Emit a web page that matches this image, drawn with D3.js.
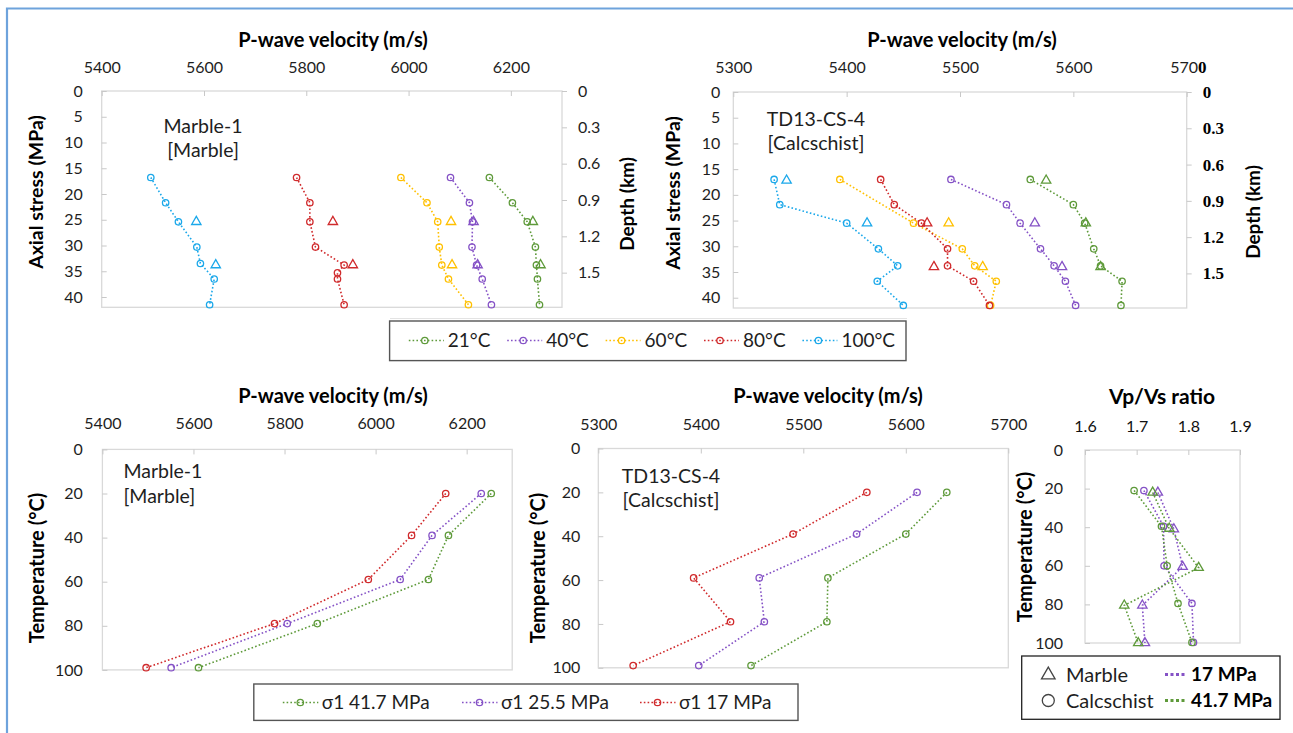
<!DOCTYPE html>
<html>
<head>
<meta charset="utf-8">
<script src="https://cdn.jsdelivr.net/npm/d3@7"></script>
<style>
  body { margin: 0; background: #fff; }
  svg { display: block; font-family: Lato, "Open Sans", sans-serif; }
</style>
</head>
<body>
<svg id="fig" width="1293" height="733"></svg>
<script>
// ---------- Data: Vp vs axial stress, Marble-1 ----------
const tempLabels = ["21°C", "40°C", "60°C", "80°C", "100°C"];
const marbleStress    = [16.8, 21.7, 25.4, 30.3, 33.8, 36.5, 41.5];
const marbleStress80  = [16.8, 21.7, 25.4, 30.3, 33.8, 35.3, 36.5, 41.5];
const marbleStress100 = [16.8, 21.7, 25.4, 30.3, 33.5, 36.5, 41.5];
const marbleVp21  = [6158, 6203, 6232, 6248, 6250, 6252, 6256];
const marbleVp40  = [6082, 6119, 6125, 6124, 6133, 6144, 6162];
const marbleVp60  = [5985, 6036, 6057, 6060, 6065, 6078, 6117];
const marbleVp80  = [5781, 5807, 5807, 5818, 5874, 5861, 5861, 5874];
const marbleVp100 = [5496, 5525, 5550, 5586, 5593, 5620, 5611];
const marbleTriStress = [25.4, 33.8];
const marbleTriVp21  = [6243, 6258];
const marbleTriVp40  = [6127, 6135];
const marbleTriVp60  = [6083, 6085];
const marbleTriVp80  = [5852, 5891];
const marbleTriVp100 = [5585, 5623];

// ---------- Data: Vp vs axial stress, TD13-CS-4 ----------
const calcStress   = [17, 21.9, 25.5, 30.5, 33.8, 36.8, 41.5];
const calcStress60 = [17, 25.5, 30.5, 33.8, 36.8, 41.5];
const calcVp21  = [5562, 5600, 5610, 5618, 5624, 5643, 5642];
const calcVp40  = [5492, 5541, 5553, 5571, 5583, 5593, 5602];
const calcVp60  = [5394, 5459, 5502, 5513, 5532, 5527];
const calcVp80  = [5430, 5442, 5466, 5489, 5489, 5512, 5526];
const calcVp100 = [5336, 5341, 5400, 5428, 5445, 5427, 5450];
const calcTriStress21  = [17.2, 25.5, 34];
const calcTriStress    = [25.5, 34];
const calcTriStress100 = [17.2, 25.5];
const calcTriVp21  = [5576, 5611, 5624];
const calcTriVp40  = [5566, 5590];
const calcTriVp60  = [5490, 5520];
const calcTriVp80  = [5471, 5477];
const calcTriVp100 = [5347, 5418];

// ---------- Data: Vp vs temperature ----------
const stressLabels = ["σ1 41.7 MPa", "σ1 25.5 MPa", "σ1 17 MPa"];
const heatTemp = [20, 39, 59, 79, 99];
const marbleHeat417 = [6254, 6160, 6116, 5872, 5611];
const marbleHeat255 = [6232, 6124, 6054, 5806, 5551];
const marbleHeat17  = [6154, 6079, 5984, 5778, 5496];
const calcHeat417 = [5640, 5600, 5524, 5523, 5449];
const calcHeat255 = [5611, 5552, 5457, 5462, 5398];
const calcHeat17  = [5562, 5490, 5393, 5429, 5334];

// ---------- Data: Vp/Vs ratio vs temperature ----------
const ratioTempMarble17  = [22, 41, 60.5, 80.5, 100];
const ratioTempMarble417 = [22, 40.7, 61, 80.5, 100];
const ratioTempCalc      = [21, 39.5, 60, 79.5, 99.7];
const ratioMarble17  = [1.741, 1.772, 1.789, 1.711, 1.716];
const ratioMarble417 = [1.731, 1.763, 1.820, 1.676, 1.703];
const ratioCalc17    = [1.714, 1.752, 1.753, 1.807, 1.810];
const ratioCalc417   = [1.695, 1.748, 1.759, 1.780, 1.807];

// ---------- Tick values ----------
const vpTicksMarble = [5400, 5600, 5800, 6000, 6200];
const vpTicksCalc   = [5300, 5400, 5500, 5600, 5700];
const stressTicks   = [0, 5, 10, 15, 20, 25, 30, 35, 40];
const depthTicks    = [0, 0.3, 0.6, 0.9, 1.2, 1.5];
const tempTicks     = [0, 20, 40, 60, 80, 100];
const ratioTicks    = [1.6, 1.7, 1.8, 1.9];

// ---------- Styles ----------
const C = { green: "#5e9a3a", purple: "#8552c6", yellow: "#ffc000", red: "#d02a2c", blue: "#1ba8ea" };
const tempColors = [C.green, C.purple, C.yellow, C.red, C.blue];
const stressColors = [C.green, C.purple, C.red];
const TXT = "#1e1e1e";
const SERIF = "'Liberation Serif', serif";

const svg = d3.select("#fig");

// outer frame
svg.append("path").attr("d", "M7,733V8.5H1293").attr("fill", "none")
  .attr("stroke", "#6ea3dc").attr("stroke-width", 2.2);

const zip = (xs, ys) => xs.map((v, i) => ({ x: v, y: ys[i] }));

function panel(o) {
  const x = d3.scaleLinear().domain(o.xDomain).range([o.left, o.right]);
  const y = d3.scaleLinear().domain(o.yDomain).range([o.top, o.bottom]);
  const g = svg.append("g");
  g.append("rect").attr("x", o.left).attr("y", o.top)
    .attr("width", o.right - o.left).attr("height", o.bottom - o.top)
    .attr("fill", "none").attr("stroke", "#d9d9d9").attr("stroke-width", 1.3);

  const ax = g.append("g").attr("transform", `translate(0,${o.top})`)
    .call(d3.axisTop(x).tickValues(o.xTicks).tickSize(-5).tickPadding(o.xPad).tickFormat(o.xFmt));
  const ay = g.append("g").attr("transform", `translate(${o.left},0)`)
    .call(d3.axisLeft(y).tickValues(o.yTicks).tickSize(-5).tickPadding(o.yPad).tickFormat(d3.format("d")));
  [ax, ay].forEach(a => {
    a.select(".domain").remove();
    a.selectAll(".tick line").attr("stroke", "#c8c8c8");
    a.selectAll("text").attr("fill", TXT).style("font-size", "16px").style("font-family", "Lato");
  });
  return { g, x, y, ax };
}

function depthAxis(p, o) {
  const yd = d3.scaleLinear().domain([0, o.depthMax]).range([o.top, o.bottom]);
  const a = p.g.append("g").attr("transform", `translate(${o.right},0)`)
    .call(d3.axisRight(yd).tickValues(depthTicks).tickSize(5).tickPadding(11).tickFormat(d => d === 0 ? "0" : d.toFixed(1)));
  a.select(".domain").remove();
  a.selectAll(".tick line").attr("stroke", "#c8c8c8");
  a.selectAll("text").attr("fill", o.depthBold ? "#000" : TXT)
    .style("font-size", o.depthBold ? "17px" : "16px")
    .style("font-family", o.depthBold ? SERIF : "Lato")
    .style("font-weight", o.depthBold ? "bold" : "normal");
}

function text(str, x, y, opts = {}) {
  const t = svg.append("text").attr("x", x).attr("y", y).text(str)
    .attr("fill", opts.fill || TXT)
    .style("font-size", (opts.size || 18) + "px")
    .style("font-weight", opts.bold ? "bold" : "normal")
    .attr("text-anchor", opts.anchor || "start");
  if (opts.family) t.style("font-family", opts.family);
  if (opts.rotate) {
    t.attr("x", 0).attr("y", 0).attr("dy", "0.35em")
      .attr("transform", `translate(${x},${y}) rotate(-90)`);
  }
  return t;
}
const title = (str, x, y, size, rotate) =>
  text(str, x, y, { bold: true, anchor: "middle", size, fill: "#000", rotate });

function drawLine(p, pts, color) {
  p.g.append("path").datum(pts)
    .attr("d", d3.line().x(d => p.x(d.x)).y(d => p.y(d.y)))
    .attr("fill", "none").attr("stroke", color)
    .attr("stroke-dasharray", "1.6,2.2").attr("stroke-width", 1.6);
}
function drawCircles(p, pts, color) {
  p.g.selectAll(null).data(pts).join("circle")
    .attr("cx", d => p.x(d.x)).attr("cy", d => p.y(d.y)).attr("r", 3.2)
    .attr("fill", "none").attr("stroke", color).attr("stroke-width", 1.3);
}
const tri = d3.symbol(d3.symbolTriangle, 38);
function drawTriangles(p, pts, color) {
  p.g.selectAll(null).data(pts).join("path")
    .attr("d", tri).attr("transform", d => `translate(${p.x(d.x)},${p.y(d.y)})`)
    .attr("fill", "none").attr("stroke", color).attr("stroke-width", 1.3);
}
function series(p, xs, ys, color) {
  const pts = zip(xs, ys);
  drawLine(p, pts, color);
  drawCircles(p, pts, color);
}

// ---------- Panel A: Marble-1 vs stress ----------
const oA = { left: 101.7, right: 562, top: 91, bottom: 307.3, xDomain: [5400, 6300], yDomain: [0, 42],
  xTicks: vpTicksMarble, yTicks: stressTicks, xPad: 18.5, yPad: 19, xFmt: d3.format("d"), depthMax: 1.786 };
const pA = panel(oA);
depthAxis(pA, oA);
const mStress = [marbleStress, marbleStress, marbleStress, marbleStress80, marbleStress100];
[marbleVp21, marbleVp40, marbleVp60, marbleVp80, marbleVp100].forEach((vp, i) => {
  series(pA, vp, mStress[i], tempColors[i]);
});
[marbleTriVp21, marbleTriVp40, marbleTriVp60, marbleTriVp80, marbleTriVp100].forEach((vp, i) => {
  drawTriangles(pA, zip(vp, marbleTriStress), tempColors[i]);
});
title("P-wave velocity (m/s)", 333, 47, 20);
title("Axial stress (MPa)", 36, 192, 19.5, true);
title("Depth (km)", 627, 204, 19, true);
text("Marble-1", 203, 132.5, { anchor: "middle", size: 19.5 });
text("[Marble]", 203, 157, { anchor: "middle", size: 19.5 });

// ---------- Panel B: TD13-CS-4 vs stress ----------
const oB = { left: 733.3, right: 1186.7, top: 92, bottom: 308, xDomain: [5300, 5700], yDomain: [0, 42],
  xTicks: vpTicksCalc, yTicks: stressTicks, xPad: 19.5, yPad: 13, xFmt: d3.format("d"), depthMax: 1.786, depthBold: true };
const pB = panel(oB);
depthAxis(pB, oB);
// the last top label ends in a heavy serif zero
pB.ax.selectAll(".tick text").filter(d => d === 5700)
  .attr("text-anchor", "start").attr("x", -17)
  .text("570")
  .append("tspan").text("0")
  .style("font-family", SERIF).style("font-weight", "bold").style("font-size", "17px").attr("fill", "#000");
const cStress = [calcStress, calcStress, calcStress60, calcStress, calcStress];
[calcVp21, calcVp40, calcVp60, calcVp80, calcVp100].forEach((vp, i) => {
  series(pB, vp, cStress[i], tempColors[i]);
});
const cTriStress = [calcTriStress21, calcTriStress, calcTriStress, calcTriStress, calcTriStress100];
[calcTriVp21, calcTriVp40, calcTriVp60, calcTriVp80, calcTriVp100].forEach((vp, i) => {
  drawTriangles(pB, zip(vp, cTriStress[i]), tempColors[i]);
});
title("P-wave velocity (m/s)", 962, 47, 20);
title("Axial stress (MPa)", 673, 193, 19.5, true);
title("Depth (km)", 1253, 212, 19, true);
text("TD13-CS-4", 816, 126, { anchor: "middle", size: 19.5 });
text("[Calcschist]", 816, 150, { anchor: "middle", size: 19.5 });

// ---------- Legend: temperatures ----------
svg.append("line").attr("x1", 390).attr("x2", 907).attr("y1", 318.5).attr("y2", 318.5)
  .attr("stroke", "#e3e3e3").attr("stroke-width", 1.2);
svg.append("rect").attr("x", 389.6).attr("y", 321).attr("width", 516.4).attr("height", 39.6)
  .attr("fill", "#fff").attr("stroke", "#555").attr("stroke-width", 1.4);
tempLabels.forEach((lab, i) => {
  const tx = 447.8 + i * 98.4, cy = 340.5;
  svg.append("line").attr("x1", tx - 39).attr("x2", tx - 4).attr("y1", cy).attr("y2", cy)
    .attr("stroke", tempColors[i]).attr("stroke-dasharray", "1.6,2.2").attr("stroke-width", 1.6);
  svg.append("circle").attr("cx", tx - 23).attr("cy", cy).attr("r", 3.2)
    .attr("fill", "none").attr("stroke", tempColors[i]).attr("stroke-width", 1.3);
  text(lab, tx, cy, { size: 19 }).attr("dy", "0.35em");
});

// ---------- Panel C: Marble-1 vs temperature ----------
const oC = { left: 102.4, right: 512.2, top: 449.4, bottom: 669.9, xDomain: [5400, 6300], yDomain: [0, 100],
  xTicks: vpTicksMarble, yTicks: tempTicks, xPad: 20, yPad: 19.5, xFmt: d3.format("d") };
const pC = panel(oC);
[marbleHeat417, marbleHeat255, marbleHeat17].forEach((vp, i) => series(pC, vp, heatTemp, stressColors[i]));
title("P-wave velocity (m/s)", 333, 403, 20);
title("Temperature (°C)", 36.5, 568, 20, true);
text("Marble-1", 123.4, 477.5, { size: 19.5 });
text("[Marble]", 123.4, 503, { size: 19.5 });

// ---------- Panel D: TD13-CS-4 vs temperature ----------
const oD = { left: 598.3, right: 1008.3, top: 448.5, bottom: 667.8, xDomain: [5300, 5700], yDomain: [0, 100],
  xTicks: vpTicksCalc, yTicks: tempTicks, xPad: 19, yPad: 18, xFmt: d3.format("d") };
const pD = panel(oD);
[calcHeat417, calcHeat255, calcHeat17].forEach((vp, i) => series(pD, vp, heatTemp, stressColors[i]));
title("P-wave velocity (m/s)", 828, 403, 20);
title("Temperature (°C)", 537.5, 568, 20, true);
text("TD13-CS-4", 671, 482.5, { anchor: "middle", size: 19.5 });
text("[Calcschist]", 671, 507, { anchor: "middle", size: 19.5 });

// ---------- Legend: confining stress ----------
svg.append("rect").attr("x", 253.8).attr("y", 684).attr("width", 544.2).attr("height", 36.4)
  .attr("fill", "#fff").attr("stroke", "#555").attr("stroke-width", 1.4);
[321.8, 501, 679].forEach((tx, i) => {
  const cy = 702.5;
  svg.append("line").attr("x1", tx - 39).attr("x2", tx - 3.5).attr("y1", cy).attr("y2", cy)
    .attr("stroke", stressColors[i]).attr("stroke-dasharray", "1.6,2.2").attr("stroke-width", 1.6);
  svg.append("circle").attr("cx", tx - 21.5).attr("cy", cy).attr("r", 3.2)
    .attr("fill", "none").attr("stroke", stressColors[i]).attr("stroke-width", 1.3);
  text(stressLabels[i], tx, cy, { size: 19 }).attr("dy", "0.35em");
});

// ---------- Panel E: Vp/Vs ratio ----------
const oE = { left: 1085, right: 1240, top: 450, bottom: 643, xDomain: [1.6, 1.9], yDomain: [0, 100],
  xTicks: ratioTicks, yTicks: tempTicks, xPad: 18.5, yPad: 22, xFmt: d3.format(".1f") };
const pE = panel(oE);
pE.ax.selectAll("text").attr("fill", "#111");
[[ratioMarble17, ratioTempMarble17, C.purple, "tri"], [ratioMarble417, ratioTempMarble417, C.green, "tri"],
 [ratioCalc17, ratioTempCalc, C.purple, "circ"], [ratioCalc417, ratioTempCalc, C.green, "circ"]]
  .forEach(([xs, ys, col, kind]) => {
    const pts = zip(xs, ys);
    drawLine(pE, pts, col);
    if (kind === "tri") drawTriangles(pE, pts, col); else drawCircles(pE, pts, col);
  });
title("Vp/Vs ratio", 1162, 404, 21);
title("Temperature (°C)", 1025, 547, 20, true);

// legend for ratio panel
svg.append("rect").attr("x", 1021.7).attr("y", 656).attr("width", 258.3).attr("height", 63.3)
  .attr("fill", "#fff").attr("stroke", "#222").attr("stroke-width", 1.3);
svg.append("path").attr("d", d3.symbol(d3.symbolTriangle, 80))
  .attr("transform", "translate(1048.3,675)").attr("fill", "none").attr("stroke", "#444").attr("stroke-width", 1.3);
svg.append("circle").attr("cx", 1048.3).attr("cy", 700.5).attr("r", 6)
  .attr("fill", "none").attr("stroke", "#444").attr("stroke-width", 1.3);
text("Marble", 1066, 674.5, { size: 20 }).attr("dy", "0.35em");
text("Calcschist", 1066, 700.5, { size: 20 }).attr("dy", "0.35em");
[[C.purple, "17 MPa", 674.5], [C.green, "41.7 MPa", 700.5]].forEach(([col, lab, cy]) => {
  svg.append("line").attr("x1", 1165).attr("x2", 1187).attr("y1", cy).attr("y2", cy)
    .attr("stroke", col).attr("stroke-width", 3.2).attr("stroke-dasharray", "3,2.5");
  text(lab, 1191, cy, { size: 19, bold: true, fill: "#000" }).attr("dy", "0.35em");
});
</script>
</body>
</html>
